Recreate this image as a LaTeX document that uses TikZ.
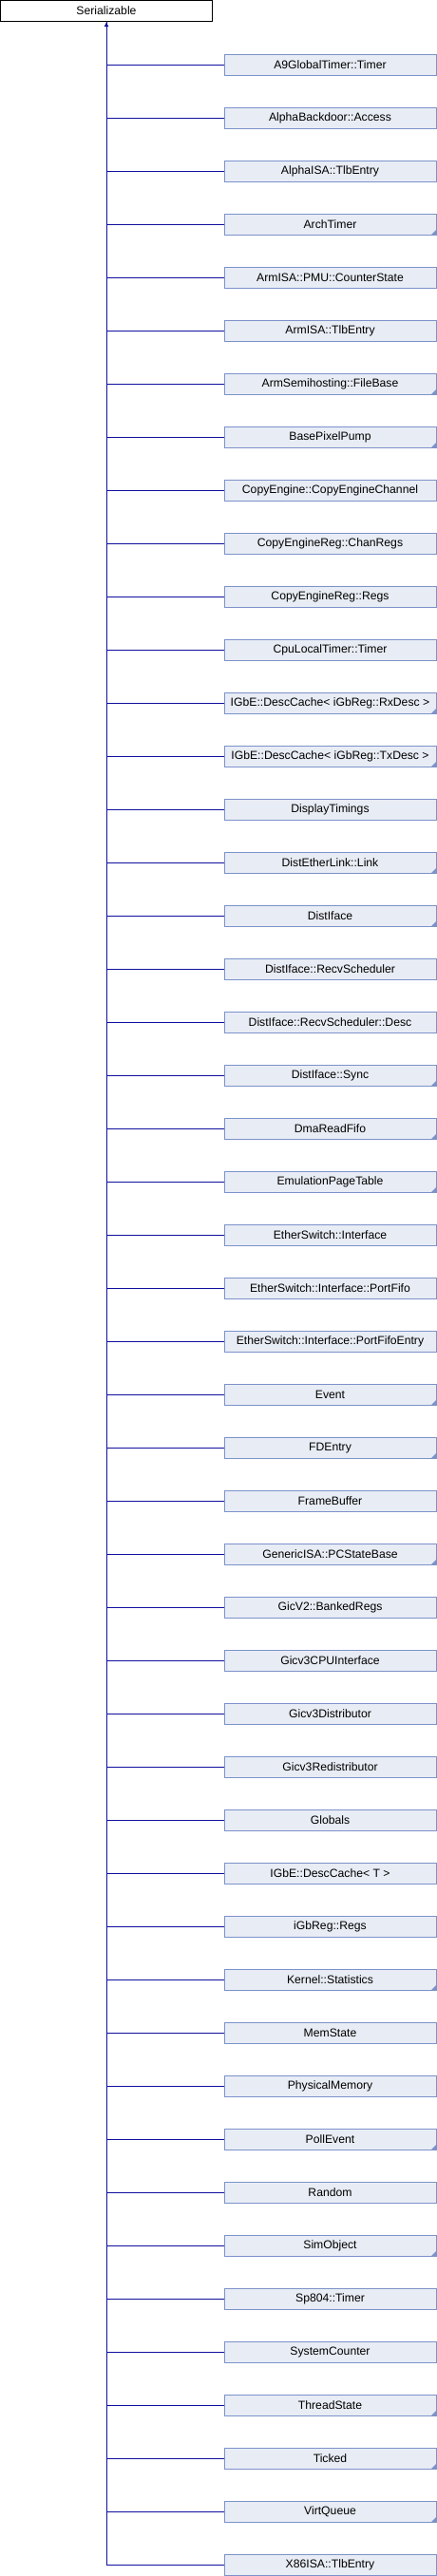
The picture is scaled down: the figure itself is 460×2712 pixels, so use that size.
\documentclass[tikz,border=0pt]{standalone}
\usepackage{fontspec}
\setmainfont{Liberation Sans}
\usetikzlibrary{arrows.meta}
\definecolor{boxfill}{RGB}{232,236,244}
\definecolor{boxline}{RGB}{124,146,202}
\definecolor{edgecol}{RGB}{16,16,158}
\tikzset{
  basebox/.style={draw=black, fill=white, line width=1pt, minimum width=223pt, minimum height=22pt, inner sep=0pt, font=\fontsize{12.2}{14}\selectfont},
  childbox/.style={draw=boxline, fill=boxfill, line width=1pt, minimum width=223pt, minimum height=22pt, inner sep=0pt, font=\fontsize{12.2}{14}\selectfont},
  edge/.style={draw=edgecol, line width=1pt},
  edgearrow/.style={edge, -{Latex[length=5pt,width=5pt]}}
}
\begin{document}
\begin{tikzpicture}[x=1pt,y=1pt]
\useasboundingbox (0,0) rectangle (460,-2712);
\node[basebox] (ser) at (112,-11.5) {Serializable};
\foreach \t/\f [count=\i from 0] in {
A9GlobalTimer::Timer/0,
AlphaBackdoor::Access/0,
AlphaISA::TlbEntry/0,
ArchTimer/1,
ArmISA::PMU::CounterState/0,
ArmISA::TlbEntry/0,
ArmSemihosting::FileBase/1,
BasePixelPump/1,
CopyEngine::CopyEngineChannel/0,
CopyEngineReg::ChanRegs/0,
CopyEngineReg::Regs/0,
CpuLocalTimer::Timer/0,
IGbE::DescCache< iGbReg::RxDesc >/1,
IGbE::DescCache< iGbReg::TxDesc >/1,
DisplayTimings/0,
DistEtherLink::Link/1,
DistIface/1,
DistIface::RecvScheduler/0,
DistIface::RecvScheduler::Desc/0,
DistIface::Sync/1,
DmaReadFifo/1,
EmulationPageTable/1,
EtherSwitch::Interface/0,
EtherSwitch::Interface::PortFifo/0,
EtherSwitch::Interface::PortFifoEntry/0,
Event/1,
FDEntry/1,
FrameBuffer/0,
GenericISA::PCStateBase/1,
GicV2::BankedRegs/0,
Gicv3CPUInterface/0,
Gicv3Distributor/0,
Gicv3Redistributor/0,
Globals/0,
IGbE::DescCache< T >/0,
iGbReg::Regs/0,
Kernel::Statistics/1,
MemState/0,
PhysicalMemory/0,
PollEvent/1,
Random/0,
SimObject/1,
Sp804::Timer/0,
SystemCounter/0,
ThreadState/1,
Ticked/1,
VirtQueue/1,
X86ISA::TlbEntry/0}
{
  \node[childbox] (c\i) at (347.5,{-68.2-56*\i}) {\t};
  \ifnum\f=1
    \fill[boxline] ([shift={(-0.5,0.5)}]c\i.south east) -- ++(-5,0) -- ++(5,5) -- cycle;
  \fi
  \draw[edge] (c\i.west) -| (ser.south);
}
\draw[edgearrow] (c47.west) -| (ser.south);
\end{tikzpicture}
\end{document}
